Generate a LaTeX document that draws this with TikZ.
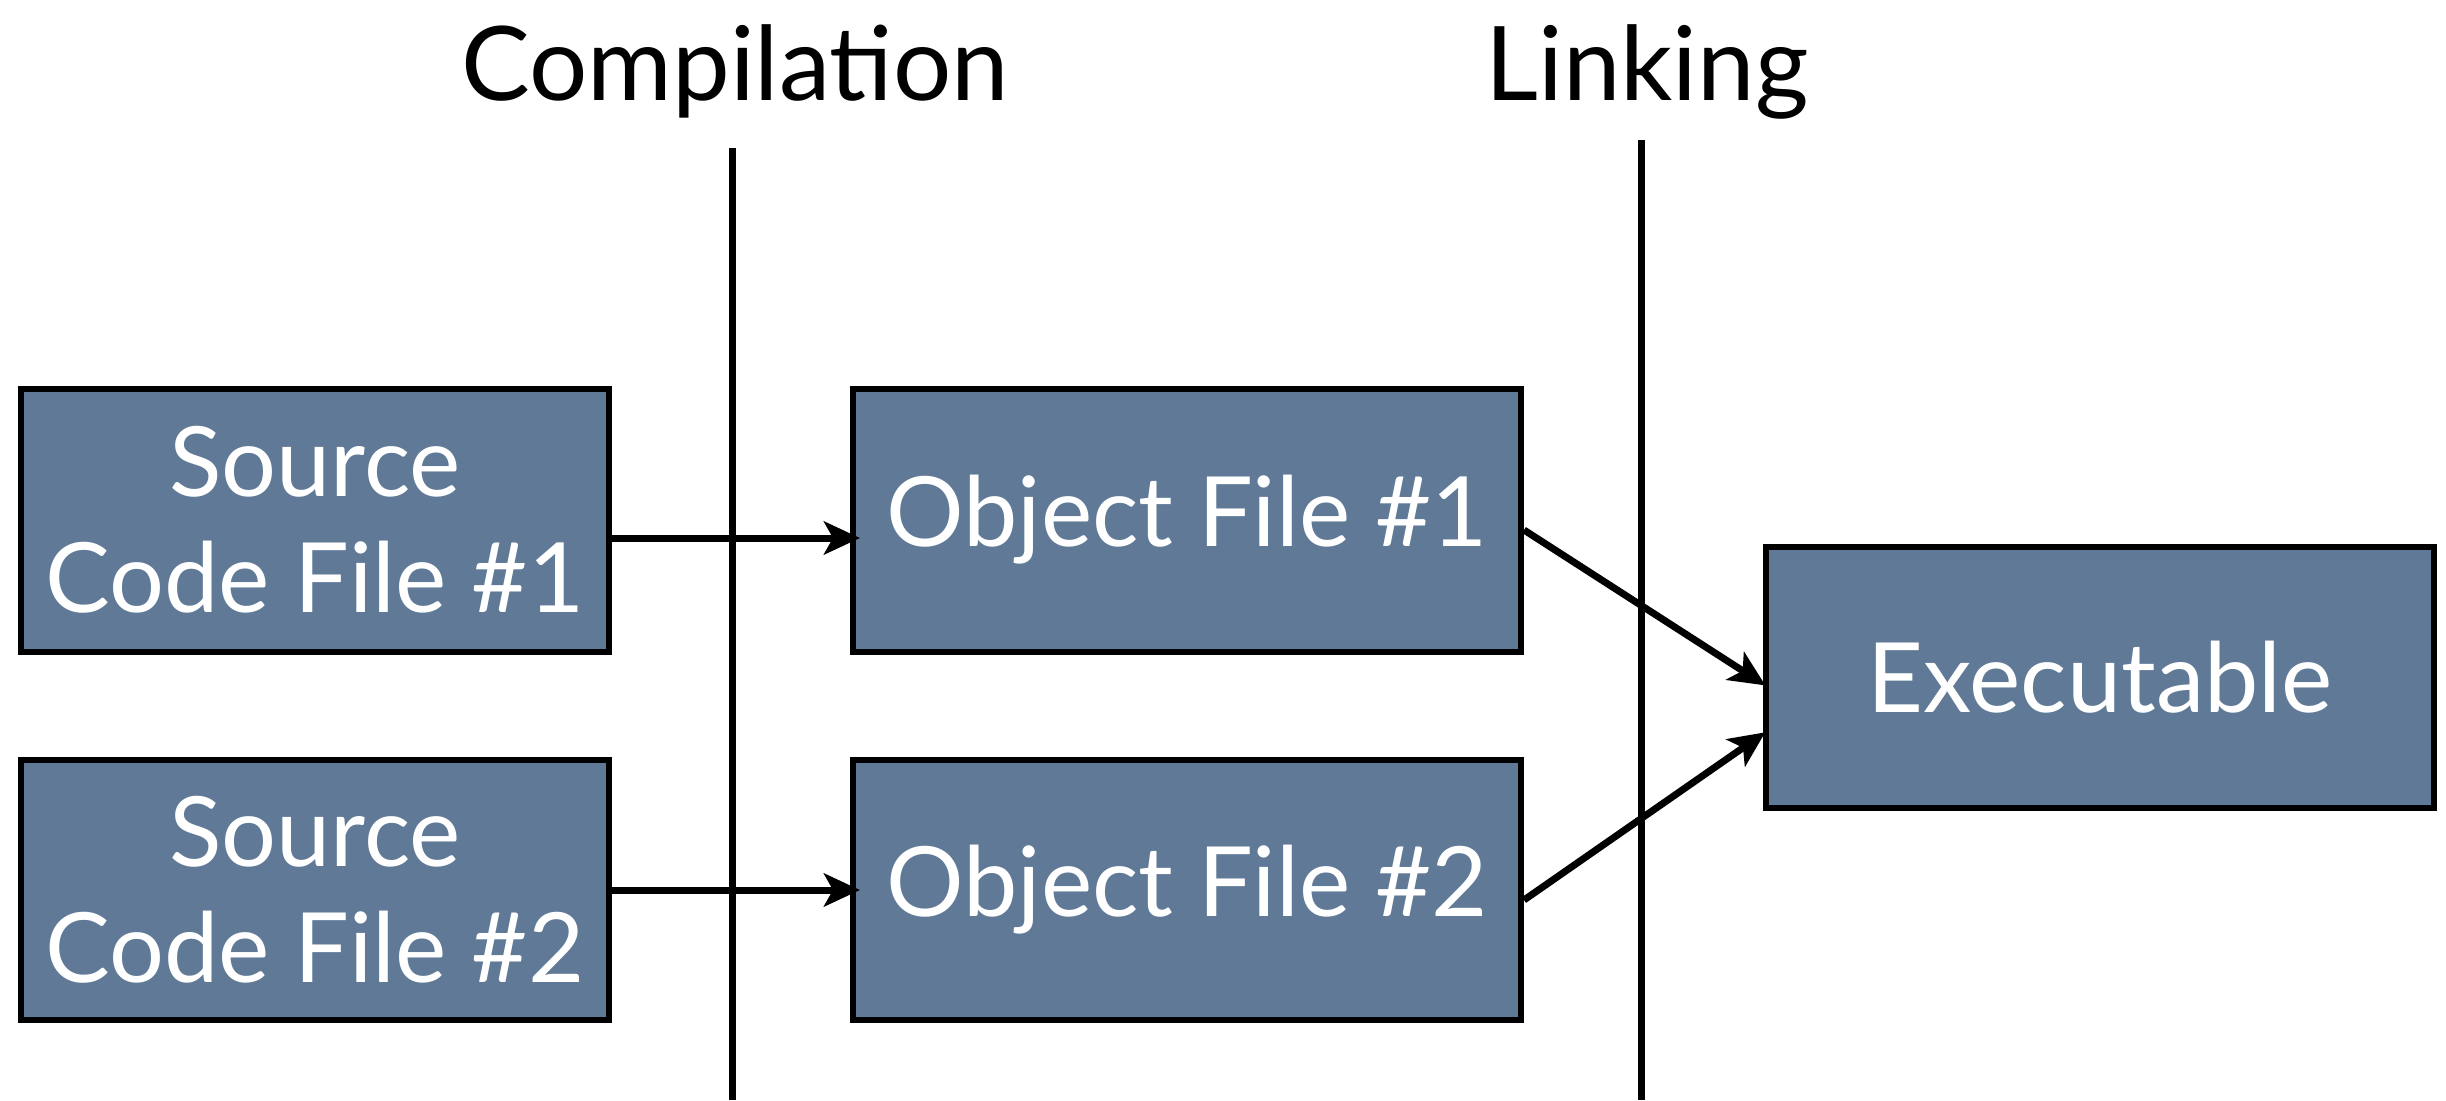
\documentclass[tikz,border=0pt]{standalone}
\usepackage{fontspec}
\setmainfont{Lato}
\usetikzlibrary{arrows.meta,calc}
\definecolor{boxblue}{RGB}{95,121,150}
\tikzset{
  box/.style={draw=black, line width=6pt, fill=boxblue, text=white, inner sep=0pt, align=center,
    font=\fontsize{97}{116}\selectfont},
  head/.style={anchor=base, text=black, inner sep=0pt, font=\fontsize{103}{110}\selectfont},
  divider/.style={line width=7pt},
  conn/.style={line width=7pt, -{Stealth[length=36pt,width=33pt,inset=9pt]}, shorten >=-10pt}
}
\begin{document}
\begin{tikzpicture}[x=1pt,y=-1pt]
\useasboundingbox (0,0) rectangle (2446,1100);
\fill[white] (0,0) rectangle (2446,1100);
% dividers
\coordinate (c1) at (732,148);
\coordinate (c2) at (732,1100);
\coordinate (l1) at (1641,140);
\coordinate (l2) at (1641,1100);
\draw[divider] (c1) -- (c2);
\draw[divider] (l1) -- (l2);
% headings
\node[head] (hc) at (735,100) {Compilation};
\node[head] (hl) at (1647,100) {Linking};
% boxes
\node[box, minimum width=588pt, minimum height=263pt] (s1) at (315,520) {Source\\Code File \#1};
\node[box, minimum width=588pt, minimum height=260pt] (s2) at (315,890) {Source\\Code File \#2};
\node[box, minimum width=668pt, minimum height=263pt] (o1) at (1187,520) {Object File \#1};
\node[box, minimum width=668pt, minimum height=260pt] (o2) at (1187,890) {Object File \#2};
\node[box, minimum width=668pt, minimum height=261pt] (ex) at (2100,677) {Executable};
% connectors
\draw[conn] ($(s1.east)+(0,18)$) -- ($(o1.west)+(0,18)$);
\draw[conn] ($(s2.east)+(0,0)$) -- ($(o2.west)+(0,0)$);
\draw[conn] ($(o1.east)+(0,10)$) -- ($(ex.west)+(-6,3)$);
\draw[conn] ($(o2.east)+(0,10)$) -- ($(ex.west)+(-6,61)$);
\end{tikzpicture}
\end{document}
